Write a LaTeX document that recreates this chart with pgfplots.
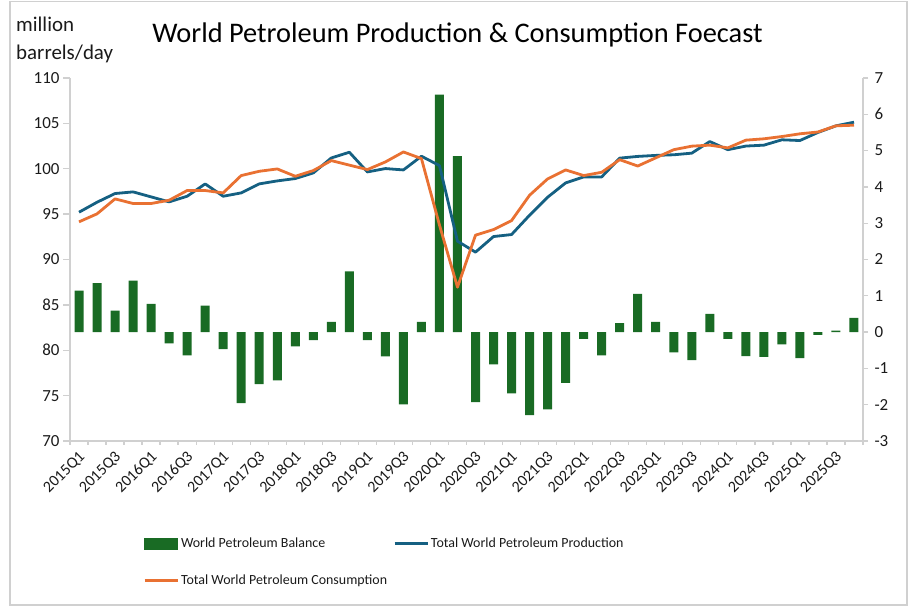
\documentclass[border=0pt]{standalone}
\usepackage{pgfplots}
\pgfplotsset{compat=1.18}
\usepackage{pgfplotstable}
\usepackage{fontspec}
\setmainfont{Carlito}
\definecolor{balgreen}{HTML}{196B24}
\definecolor{prodblue}{HTML}{156082}
\definecolor{consorange}{HTML}{E97132}
\definecolor{axgray}{HTML}{D0D0D0}
\definecolor{txt}{HTML}{1A1A1A}

\pgfplotstableread{
idx bal prod cons
0 1.14 95.21 94.15
1 1.35 96.31 95.03
2 0.59 97.27 96.68
3 1.42 97.45 96.17
4 0.78 96.90 96.17
5 -0.31 96.35 96.53
6 -0.64 96.97 97.60
7 0.73 98.33 97.60
8 -0.47 96.97 97.34
9 -1.96 97.34 99.25
10 -1.43 98.33 99.72
11 -1.33 98.66 99.98
12 -0.39 98.92 99.17
13 -0.22 99.54 99.80
14 0.28 101.19 100.90
15 1.67 101.82 100.40
16 -0.22 99.65 99.91
17 -0.67 100.02 100.75
18 -1.99 99.87 101.85
19 0.28 101.38 101.12
20 6.54 100.35 93.80
21 4.85 92.02 86.95
22 -1.93 90.81 92.68
23 -0.89 92.53 93.30
24 -1.69 92.75 94.29
25 -2.29 94.88 97.08
26 -2.13 96.86 98.88
27 -1.40 98.44 99.87
28 -0.19 99.10 99.25
29 -0.64 99.10 99.61
30 0.25 101.17 101.00
31 1.05 101.36 100.30
32 0.28 101.47 101.20
33 -0.56 101.54 102.10
34 -0.77 101.72 102.49
35 0.50 103.00 102.60
36 -0.19 102.10 102.30
37 -0.66 102.50 103.15
38 -0.68 102.60 103.30
39 -0.34 103.19 103.55
40 -0.72 103.11 103.85
41 -0.08 104.00 104.05
42 0.04 104.73 104.73
43 0.39 105.13 104.80
}\datatable

\begin{document}
\begin{tikzpicture}
\path[use as bounding box] (0bp,0bp) rectangle (909bp,607bp);
\draw[axgray, line width=1.3bp] (10bp,2bp) rectangle (907bp,605.5bp);

% bars on right axis
\begin{axis}[
  at={(70bp,166bp)}, anchor=south west,
  scale only axis, width=793bp, height=363bp,
  xmin=-0.5, xmax=43.5, ymin=-3, ymax=7,
  axis y line*=right, axis x line=none,
  ytick={-3,-2,...,7},
  yticklabels={-3,-2,-1,0,1,2,3,4,5,6,7},
  tick align=outside, major tick length=5bp,
  axis line style={axgray, line width=1.3bp},
  ytick style={axgray, line width=1.3bp},
  yticklabel style={font=\fontsize{17}{18}\selectfont, text=txt, xshift=3bp},
  ybar, bar width=9bp,
]
\addplot[fill=balgreen, draw=none] table[x=idx, y=bal] {\datatable};
\end{axis}

% lines on left axis
\begin{axis}[
  at={(70bp,166bp)}, anchor=south west,
  scale only axis, width=793bp, height=363bp,
  xmin=-0.5, xmax=43.5, ymin=70, ymax=110,
  axis y line*=left, axis x line*=bottom,
  ytick={70,75,...,110},
  xtick={0,2,...,42},
  xticklabels={2015Q1,2015Q3,2016Q1,2016Q3,2017Q1,2017Q3,2018Q1,2018Q3,2019Q1,2019Q3,2020Q1,2020Q3,2021Q1,2021Q3,2022Q1,2022Q3,2023Q1,2023Q3,2024Q1,2024Q3,2025Q1,2025Q3},
  minor xtick={-0.5,0.5,...,43.5},
  tick align=outside, major tick length=7bp, minor tick length=4bp,
  major x tick style={draw=none},
  minor x tick style={axgray, line width=1.3bp},
  ytick style={axgray, line width=1.3bp},
  axis line style={axgray, line width=1.3bp},
  /pgf/number format/assume math mode=true,
  yticklabel style={font=\fontsize{17}{18}\selectfont, text=txt},
  xticklabel style={font=\fontsize{16}{17}\selectfont, text=txt, rotate=45, anchor=east, inner sep=0pt, yshift=-7bp, xshift=-2bp},
  legend columns=2,
  legend cell align=left,
  legend style={at={(0.0883,-0.255)}, anchor=north west, draw=none, fill=none,
    font=\fontsize{14}{16}\selectfont, text=txt, row sep=22bp,
    /tikz/every even column/.append style={column sep=4bp}},
]
\addlegendimage{legend image code/.code={\fill[balgreen] (0bp,-5.5bp) rectangle (33bp,5.5bp);}}
\addlegendentry{World Petroleum Balance}
\addplot[prodblue, line width=2.8bp, line join=round, mark=none,
  legend image code/.code={\draw[prodblue, line width=2.8bp] (0bp,0bp) -- (33bp,0bp);}]
  table[x=idx, y=prod] {\datatable};
\addlegendentry{Total World Petroleum Production}
\addplot[consorange, line width=2.8bp, line join=round, mark=none,
  legend image code/.code={\draw[consorange, line width=2.8bp] (0bp,0bp) -- (33bp,0bp);}]
  table[x=idx, y=cons] {\datatable};
\addlegendentry{Total World Petroleum Consumption}
\end{axis}

\node[anchor=base, font=\fontsize{28.5}{32}\selectfont, text=black] at (457.5bp,564bp) {World Petroleum Production \& Consumption Foecast};
\node[anchor=base west, font=\fontsize{21}{24}\selectfont, text=txt, inner sep=0pt] at (16bp,575bp) {million};
\node[anchor=base west, font=\fontsize{21}{24}\selectfont, text=txt, inner sep=0pt] at (16bp,547bp) {barrels/day};
\end{tikzpicture}
\end{document}
